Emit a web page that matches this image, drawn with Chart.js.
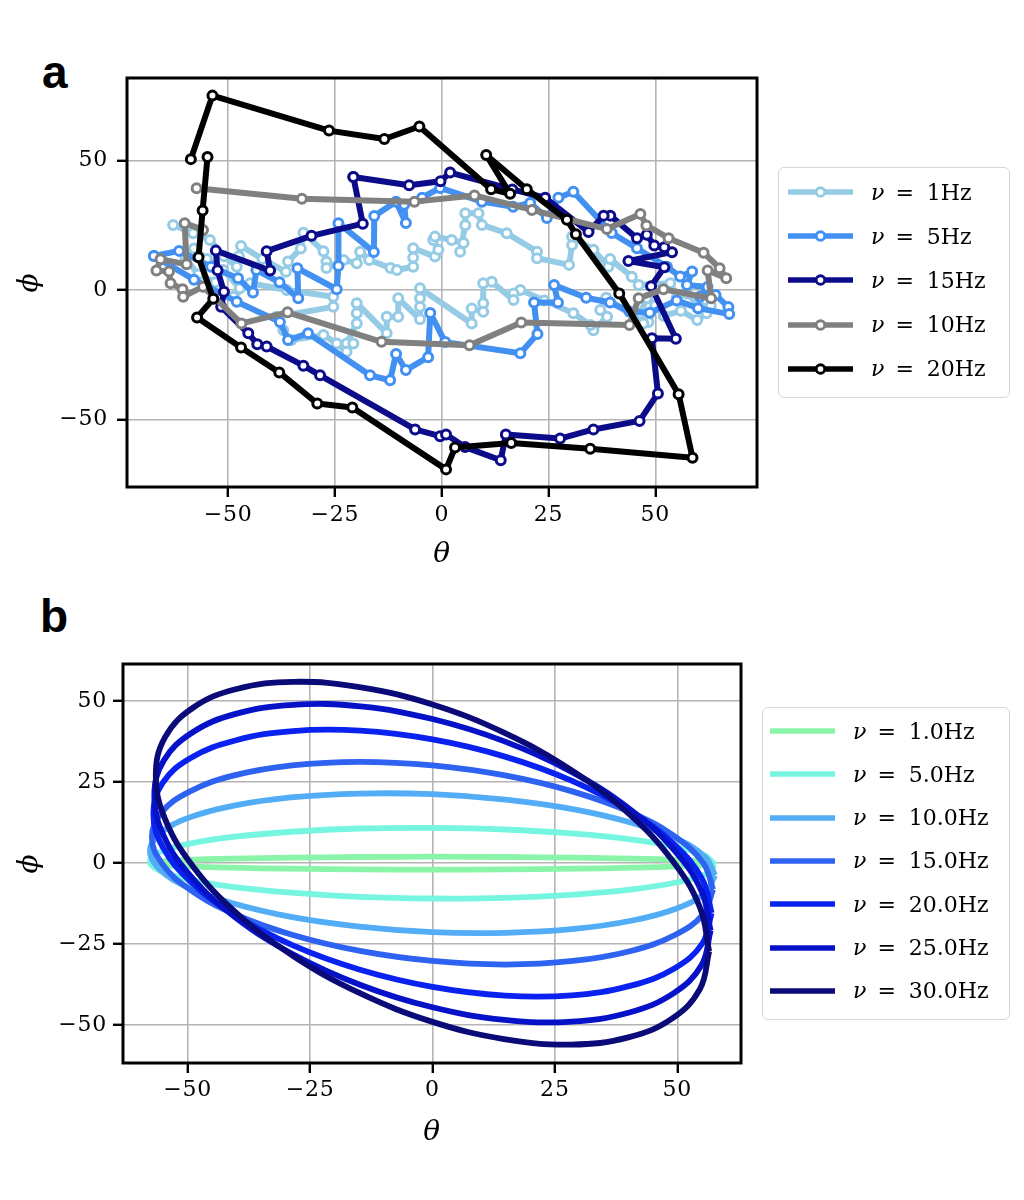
<!DOCTYPE html>
<html><head><meta charset="utf-8">
<script src="https://cdn.jsdelivr.net/npm/chart.js@4.4.0/dist/chart.umd.min.js"></script>
<style>
body{margin:0;width:1024px;height:1200px;background:#fff;position:relative;overflow:hidden;font-family:'DejaVu Serif',serif}
#wa{position:absolute;left:0;top:0;width:780px;height:580px}
#wb{position:absolute;left:0;top:590px;width:770px;height:570px}
.panel{position:absolute;font-family:'Liberation Sans',Arial,sans-serif;font-weight:bold;font-size:46px;line-height:46px}
.legend{position:absolute;border:1.5px solid #d6d6d6;border-radius:6px;background:rgba(255,255,255,0.85);box-sizing:border-box}
.item{position:absolute;left:0;height:34px;display:flex;align-items:center;white-space:nowrap;font-family:'DejaVu Serif',serif;font-size:22px;color:#000}
.item svg{position:absolute;left:0;top:0}
.item .txt{position:absolute}
.item .eq{margin:0 13px 0 11px}
</style>
</head><body>
<div class="panel" style="left:42px;top:49px">a</div>
<div class="panel" style="left:40px;top:593px">b</div>
<div id="wa"><canvas id="ca"></canvas></div>
<div id="wb"><canvas id="cb"></canvas></div>
<div class="legend" id="la" style="left:778px;top:167px;width:232px;height:231px"></div>
<div class="legend" id="lb" style="left:762px;top:707px;width:248px;height:313px"></div>
<script>
// ---------- Panel a data ----------
const aNames = ['1Hz','5Hz','15Hz','10Hz','20Hz'];
const aColors = ['#96cbe6','#4190f2','#0c0c8a','#808080','#000000'];
const aXTicks = [-50,-25,0,25,50];
const aYTicks = [-50,0,50];
const a1Hz = [[-62.9,25.1],[-58.2,21.9],[-54.3,19.3],[-51,13],[-48,9],[-47.5,13],[-47,17],[-42,12],[-36.5,7],[-36,11],[-33,16],[-32.4,22.1],[-27.7,15],[-27,10.9],[-27,8.5],[-23,11.6],[-19.9,10.3],[-19.1,14.8],[-17,11.6],[-12,8.5],[-10.5,7.7],[-6.7,9],[-6.7,12.5],[-6.7,16.1],[-1.6,12.9],[-0.8,15.5],[-2,19.3],[-1.6,20.6],[2.3,19.3],[5.1,18.1],[4.3,14.8],[5.5,25],[5.5,29.6],[8.6,29.6],[9.4,25.1],[15.2,21.9],[22.3,14.8],[22.3,12.3],[29.8,9.7],[30.5,17.4],[30.5,20.6],[35.5,15.5],[39,9],[39.4,12],[44.5,5.1],[46.1,1.9],[53.5,2.6],[55.1,-2.6],[57.4,-1.3],[60.5,-6.5],[63,-6],[62,-9],[59.8,-11.6],[56,-8],[52,-10],[50,-6],
  [48,-3.2],[46.5,-9],[48.4,-12.3],[47.2,-12.9],[38.5,-3],[37.1,-7.7],[38.7,-10.3],[35.5,-15.5],[34.8,-13.5],[30.8,-9],[24,-4],[18.4,0],[16.8,-1.3],[16.8,-3.9],[11.7,3.2],[9.7,2.6],[9.7,-5.1],[9.7,-8.4],[7,-7.1],[7,-12.9],[-5.1,0.7],[-5.1,-3.2],[-5.1,-6.5],[-5.1,-11.3],[-10.2,-3.2],[-10.2,-10.3],[-12.9,-10.3],[-12.9,-16.7],[-19.9,-5.1],[-19.9,-9],[-19.9,-12.9],[-22.3,-20.6],[-20.7,-20.6],[-22.3,-23.8],[-24.6,-20.6],[-27.7,-17.4],[-35.2,-19.3],[-37.1,-15.5],[-38.7,-10.3],[-25.4,-6.5],[-25.4,-2.6],[-36.3,0],[-44.9,2.6],[-48.8,-2.6],[-47.3,0.7],[-51.2,7.7],[-55,12],[-58,16],[-60,12],[-57,6],[-53,3]];
const a5Hz = [[-67.4,13.1],[-61.5,15.1],[-54,9],[-47.7,4.5],[-44.2,-1.0],[-43.4,7.7],[-38,3],[-33.6,-3.2],[-33.8,8.4],[-24.6,0.3],[-24.2,9.3],[-24.2,25.8],[-15.9,14.7],[-15.8,28.6],[-10.7,34.1],[-8.4,25.9],[-8.8,32.9],[-4.6,35.6],[-0.4,39.4],[9.4,34.1],[16.7,32.1],[20.7,33.6],[24.6,27.8],[27.3,35.6],[30.8,37.9],[39.8,22.0],[45.7,16.1],[52.7,9.0],[55.8,5.2],[58.6,7.1],[57.4,1.9],[62.2,1.2],[60.5,-2.5],[64.1,-1.9],[67.1,-6.6],[67.3,-9.3],
  [60,-7],[55,-4],[48.7,-8.8],[44,-8.4],[39.4,-4.8],[33.8,-3.0],[26.3,1.9],[27.2,-4.8],[21.6,-4.8],[22.4,-17.0],[18.4,-24.4],[0.8,-20.1],[-2.7,-8.9],[-3.2,-25.9],[-8.4,-30.9],[-10.7,-24.7],[-12.1,-34.8],[-16.8,-32.9],[-31.3,-16.7],[-36.0,-19.3],[-37.9,-12.3],[-48.0,-4.5],[-58,4],[-67.4,13.1]];
const a15Hz = [[-20.7,43.6],[-18.5,25.6],[-30.5,20.9],[-41.0,15.0],[-40.2,7.5],[-52.9,15.2],[-52.5,7.6],[-51.0,-0.7],[-51.65,-6.5],[-45.3,-16.7],[-43.2,-20.9],[-41.0,-21.8],[-32.4,-29.2],[-28.5,-32.9],[-6.25,-53.8],[-0.4,-56.4],[1.0,-55.7],[5.45,-60.6],[13.8,-65.7],[15.0,-55.7],[27.7,-57.3],[35.5,-53.8],[46.3,-50.5],[50.6,-39.9],[49.2,-18.6],[54.8,-18.8],[49.0,1.5],[52.1,8.8],[43.7,11.2],[53.9,14.6],[52.1,16.5],[49.75,17.2],[48.0,21.3],[45.7,20.0],[39.45,28.7],[37.9,28.7],[34.35,22.4],[24.2,35.6],[16.5,38.8],[1.95,45.3],[-0.3,42.0],[-7.65,40.4],[-20.7,43.6]];
const a10Hz = [[-55.9,23.2],[-60.2,25.8],[-59.75,9.9],[-65.85,11.9],[-66.8,7.5],[-63.85,7.1],[-63.5,2.6],[-60.7,0.3],[-60.55,-2.6],[-55.9,1.3],[-46.9,-12.9],[-36.1,-8.6],[-14.1,-20.0],[6.5,-21.3],[18.6,-12.5],[43.95,-13.5],[46.1,-3.2],[51.9,0.3],[63.05,-3.2],[62.25,7.5],[66.6,4.5],[65.05,8.4],[61.3,14.4],[53.1,20.0],[47.9,24.9],[46.5,29.3],[38.65,23.5],[21.1,30.9],[7.65,36.5],[-6.4,34.1],[-32.75,35.2],[-57.4,39.3]];
const a20Hz = [[-58.75,50.5],[-53.7,75.0],[-26.4,61.5],[-13.45,58.25],[-5.25,63.1],[11.55,38.9],[16.0,37.1],[10.4,52.1],[19.9,38.9],[29.3,27.1],[31.4,21.5],[41.55,-1.3],[55.45,-40.2],[58.7,-64.7],[34.75,-61.2],[16.25,-59.0],[3.1,-60.8],[1.0,-69.2],[-20.95,-45.3],[-29.15,-43.8],[-38.05,-31.8],[-47.0,-22.2],[-57.3,-10.6],[-53.5,-3.4],[-56.95,12.6],[-56.0,30.65],[-54.85,51.3]];
const aSeries = [a1Hz,a5Hz,a15Hz,a10Hz,a20Hz];

// ---------- Panel b data ----------
const bNames = ['1.0Hz','5.0Hz','10.0Hz','15.0Hz','20.0Hz','25.0Hz','30.0Hz'];
const bColors = ['#8af5a8','#76f5e0','#52adf6','#2e62f0','#0a22ef','#0612c8','#0a0a78'];
const bXTicks = [-50,-25,0,25,50];
const bYTicks = [-50,-25,0,25,50];
const bTheta577 = [57.7,55.7,50.0,40.8,28.9,14.9,0,-14.9,-28.9,-40.8,-50.0,-55.7,-57.7,-55.7,-50.0,-40.8,-28.9,-14.9,0,14.9,28.9,40.8,50.0,55.7,57.7];
const bTheta573 = [57.3,55.3,49.6,40.5,28.7,14.8,0,-14.8,-28.7,-40.5,-49.6,-55.3,-57.3,-55.3,-49.6,-40.5,-28.7,-14.8,0,14.8,28.7,40.5,49.6,55.3,57.3];
const bTheta570 = [57.0,55.1,49.4,40.3,28.5,14.8,0,-14.8,-28.5,-40.3,-49.4,-55.1,-57.0,-55.1,-49.4,-40.3,-28.5,-14.8,0,14.8,28.5,40.3,49.4,55.1,57.0];
const bTheta568 = [56.8,54.9,49.2,40.2,28.4,14.7,0,-14.7,-28.4,-40.2,-49.2,-54.9,-56.8,-54.9,-49.2,-40.2,-28.4,-14.7,0,14.7,28.4,40.2,49.2,54.9,56.8];
const bTheta565 = [56.5,54.6,48.9,40.0,28.3,14.6,0,-14.6,-28.3,-40.0,-48.9,-54.6,-56.5,-54.6,-48.9,-40.0,-28.3,-14.6,0,14.6,28.3,40.0,48.9,54.6,56.5];
const bPhi1 = [0,0.5,1.0,1.4,1.7,1.9,2.0,1.9,1.7,1.4,1.0,0.5,0,-0.5,-1.0,-1.4,-1.7,-1.9,-2.0,-1.9,-1.7,-1.4,-1.0,-0.5,0];
const bPhi5 = [-0.6,2.3,5.0,7.3,9.1,10.4,10.9,10.7,9.7,8.1,5.9,3.4,0.6,-2.3,-5.0,-7.3,-9.1,-10.4,-10.9,-10.7,-9.7,-8.1,-5.9,-3.4,-0.6];
const bPhi10 = [-3.8,1.9,7.4,12.4,16.6,19.6,21.3,21.5,20.3,17.7,13.9,9.1,3.8,-1.9,-7.4,-12.4,-16.6,-19.6,-21.3,-21.5,-20.3,-17.7,-13.9,-9.1,-3.8];
const bPhi15 = [-8.1,0,8.1,15.7,22.1,27.1,30.2,31.3,30.2,27.1,22.1,15.7,8.1,0,-8.1,-15.7,-22.1,-27.1,-30.2,-31.3,-30.2,-27.1,-22.1,-15.7,-8.1];
const bPhi20 = [-15.4,-5.0,5.7,16.1,25.4,32.9,38.2,40.9,40.8,37.9,32.5,24.8,15.4,5.0,-5.7,-16.1,-25.4,-32.9,-38.2,-40.9,-40.8,-37.9,-32.5,-24.8,-15.4];
const bPhi25 = [-20.8,-8.5,4.3,16.8,28.2,37.6,44.5,48.4,48.9,46.1,40.2,31.6,20.8,8.5,-4.3,-16.8,-28.2,-37.6,-44.5,-48.4,-48.9,-46.1,-40.2,-31.6,-20.8];
const bPhi30 = [-27.2,-13.6,1.0,15.4,28.8,40.3,49.0,54.3,56.0,53.8,48.0,38.9,27.2,13.6,-1.0,-15.4,-28.8,-40.3,-49.0,-54.3,-56.0,-53.8,-48.0,-38.9,-27.2];
const bThetas = [bTheta577,bTheta577,bTheta577,bTheta573,bTheta570,bTheta568,bTheta565];
const bPhis = [bPhi1,bPhi5,bPhi10,bPhi15,bPhi20,bPhi25,bPhi30];

// ---------- helpers ----------
const fmt = v => (v < 0 ? '\u2212' + Math.abs(v) : String(v));
const SERIF = "'DejaVu Serif', serif";
const spacing = {id:'spacing', beforeDraw(c){ c.ctx.letterSpacing = '0.8px'; }};
const frame = {id:'frame', afterDatasetsDraw(c){const {ctx, chartArea:a} = c; ctx.save(); ctx.strokeStyle='#000'; ctx.lineWidth=3; ctx.strokeRect(a.left, a.top, a.right-a.left, a.bottom-a.top); ctx.restore();}};

function axis(min, max, ticks, fitProp, fitVal, tickPad, title, titlePad){
  return {
    type:'linear', min, max,
    afterBuildTicks: s => { s.ticks = ticks.map(v => ({value:v})); },
    afterFit: s => { s[fitProp] = fitVal; },
    ticks:{font:{family:SERIF,size:22}, color:'#000', padding:tickPad, callback:v => fmt(v)},
    grid:{color:'#b4b4b4', lineWidth:1.6, tickLength:10, tickColor:'#000', tickWidth:2.4},
    border:{display:false},
    title:{display:true, text:title, color:'#000', font:{family:SERIF,size:28,style:'italic'}, padding:titlePad}
  };
}

Chart.defaults.animation = false;

new Chart(document.getElementById('ca'), {
  type:'scatter',
  data:{datasets: aSeries.map((s,i) => ({
    label:aNames[i], data:s.map(p => ({x:p[0], y:p[1]})), showLine:true,
    borderColor:aColors[i], borderWidth:6, borderJoinStyle:'round', pointRadius:4.5, pointBorderWidth:3,
    pointBackgroundColor:'#ffffff', pointBorderColor:aColors[i], tension:0, order:aSeries.length - i
  }))},
  options:{
    responsive:true, maintainAspectRatio:false, events:[],
    layout:{padding:{top:78, left:0, right:23, bottom:0}},
    plugins:{legend:{display:false}, tooltip:{enabled:false}},
    scales:{
      x: axis(-73.7, 73.8, aXTicks, 'height', 93, 5, 'θ', {top:0,bottom:8}),
      y: axis(-76.0, 81.8, aYTicks, 'width', 127, 9, 'ϕ', {top:13,bottom:0})
    }
  },
  plugins:[spacing, frame]
});

new Chart(document.getElementById('cb'), {
  type:'scatter',
  data:{datasets: bPhis.map((ph,i) => ({
    label:bNames[i], data:ph.map((v,k) => ({x:bThetas[i][k], y:v})), showLine:true,
    borderColor:bColors[i], borderWidth:5.8, borderJoinStyle:'round', pointRadius:0, tension:0.4, order:bPhis.length - i
  }))},
  options:{
    responsive:true, maintainAspectRatio:false, events:[],
    layout:{padding:{top:74, left:0, right:29, bottom:0}},
    plugins:{legend:{display:false}, tooltip:{enabled:false}},
    scales:{
      x: axis(-63.2, 63.0, bXTicks, 'height', 97, 4, 'θ', {top:0,bottom:10}),
      y: axis(-61.7, 61.5, bYTicks, 'width', 123, 6, 'ϕ', {top:13,bottom:0})
    }
  },
  plugins:[spacing, frame]
});

// ---------- legends ----------
function buildLegend(id, names, colors, y0, dy, x1, x2, textX, marker){
  const box = document.getElementById(id);
  names.forEach((n,i) => {
    const it = document.createElement('div');
    it.className = 'item';
    it.style.top = (y0 + i*dy - 17) + 'px';
    it.style.width = '100%';
    let svg = `<svg width="${x2+10}" height="34"><line x1="${x1}" y1="17" x2="${x2}" y2="17" stroke="${colors[i]}" stroke-width="5.5"/>`;
    if (marker) svg += `<circle cx="${(x1+x2)/2}" cy="17" r="4.3" fill="#fff" stroke="${colors[i]}" stroke-width="2.9"/>`;
    svg += '</svg>';
    it.innerHTML = svg + `<span class="txt" style="left:${textX}px"><i>ν</i><span class="eq">=</span>${n}</span>`;
    box.appendChild(it);
  });
}
buildLegend('la', aNames, aColors, 24, 44.2, 9, 74, 92, true);
buildLegend('lb', bNames, bColors, 23, 43.3, 7, 72, 90, false);
</script>
</body></html>
